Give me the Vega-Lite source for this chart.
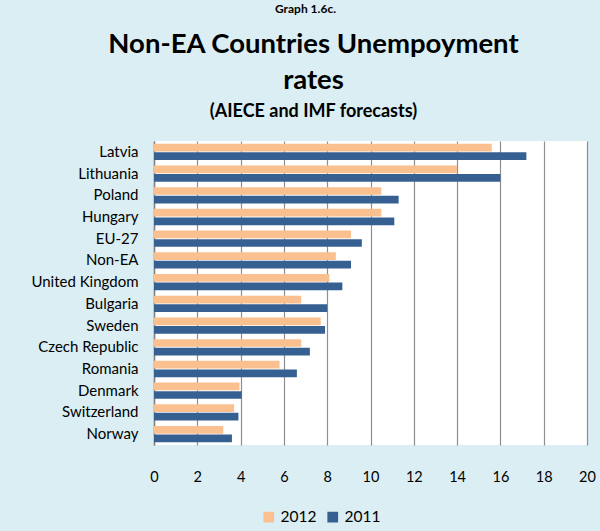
{
  "$schema": "https://vega.github.io/schema/vega-lite/v6.json",
  "width": 433,
  "height": 304,
  "autosize": {"type": "none"},
  "padding": {"left": 154, "top": 141, "right": 13, "bottom": 86},
  "background": "#DAEEF3",
  "title": {"text": "Graph 1.6c.", "fontSize": 12, "font": "Lato", "fontWeight": "bold", "color": "#000", "anchor": "middle", "dx": -65, "offset": 2, "baseline": "bottom"},
  "data": {"values": [
    {"country": "Latvia", "year": "2012", "rate": 15.6},
    {"country": "Latvia", "year": "2011", "rate": 17.2},
    {"country": "Lithuania", "year": "2012", "rate": 14.0},
    {"country": "Lithuania", "year": "2011", "rate": 16.0},
    {"country": "Poland", "year": "2012", "rate": 10.5},
    {"country": "Poland", "year": "2011", "rate": 11.3},
    {"country": "Hungary", "year": "2012", "rate": 10.5},
    {"country": "Hungary", "year": "2011", "rate": 11.1},
    {"country": "EU-27", "year": "2012", "rate": 9.1},
    {"country": "EU-27", "year": "2011", "rate": 9.6},
    {"country": "Non-EA", "year": "2012", "rate": 8.4},
    {"country": "Non-EA", "year": "2011", "rate": 9.1},
    {"country": "United Kingdom", "year": "2012", "rate": 8.1},
    {"country": "United Kingdom", "year": "2011", "rate": 8.7},
    {"country": "Bulgaria", "year": "2012", "rate": 6.8},
    {"country": "Bulgaria", "year": "2011", "rate": 8.0},
    {"country": "Sweden", "year": "2012", "rate": 7.7},
    {"country": "Sweden", "year": "2011", "rate": 7.9},
    {"country": "Czech Republic", "year": "2012", "rate": 6.8},
    {"country": "Czech Republic", "year": "2011", "rate": 7.2},
    {"country": "Romania", "year": "2012", "rate": 5.8},
    {"country": "Romania", "year": "2011", "rate": 6.6},
    {"country": "Denmark", "year": "2012", "rate": 3.95},
    {"country": "Denmark", "year": "2011", "rate": 4.05},
    {"country": "Switzerland", "year": "2012", "rate": 3.7},
    {"country": "Switzerland", "year": "2011", "rate": 3.9},
    {"country": "Norway", "year": "2012", "rate": 3.2},
    {"country": "Norway", "year": "2011", "rate": 3.6}
  ]},
  "mark": {"type": "bar"},
  "encoding": {
    "y": {
      "field": "country", "type": "nominal", "sort": null,
      "scale": {"paddingInner": 0.25, "paddingOuter": 0.125},
      "axis": {
        "title": ["Non-EA Countries Unempoyment", "rates"],
        "titleFontSize": 27.5, "titleFont": "Lato", "titleFontWeight": "bold", "titleColor": "#000",
        "titleAngle": 0, "titleAlign": "center", "titleBaseline": "alphabetic",
        "titleX": 159, "titleY": -89, "titleLineHeight": 36,
        "labelFontSize": 15, "labelFont": "Lato", "labelColor": "#000", "labelPadding": 16,
        "ticks": false, "tickSize": 0, "domainColor": "#808080", "domainWidth": 1.5, "grid": false
      }
    },
    "yOffset": {"field": "year", "type": "nominal", "sort": ["2012", "2011"], "scale": {"paddingInner": 0.1}},
    "x": {
      "field": "rate", "type": "quantitative",
      "scale": {"domain": [0, 20], "nice": false},
      "axis": {
        "title": "(AIECE and IMF forecasts)",
        "titleFontSize": 18, "titleFont": "Lato", "titleFontWeight": "bold", "titleColor": "#000",
        "titleX": 159, "titleY": -329, "titleAlign": "center", "titleBaseline": "alphabetic",
        "values": [0, 2, 4, 6, 8, 10, 12, 14, 16, 18, 20],
        "labelFontSize": 14.5, "labelFont": "Lato", "labelColor": "#000", "labelPadding": 32, "labelBaseline": "middle", "labelFlush": false,
        "ticks": false, "tickSize": 0, "domain": false,
        "grid": true, "gridColor": "#8f8f8f", "gridWidth": 1.2
      }
    },
    "color": {
      "field": "year", "type": "nominal",
      "scale": {"domain": ["2012", "2011"], "range": ["#FAC090", "#376092"]},
      "legend": {
        "title": null, "orient": "none", "legendX": 107, "legendY": 368, "direction": "horizontal",
        "symbolType": "square", "symbolSize": 115, "symbolStrokeWidth": 0,
        "labelFontSize": 15.5, "labelFont": "Lato", "labelColor": "#000", "labelOffset": 4, "columnPadding": 8
      }
    }
  },
  "config": {"view": {"fill": "white", "stroke": null}, "font": "Lato"}
}
